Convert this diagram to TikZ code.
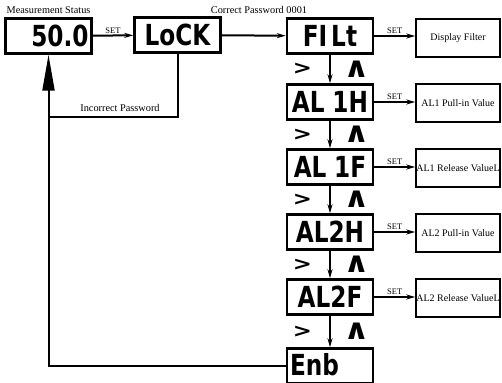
\documentclass[tikz,border=0pt]{standalone}
\usepackage{fontspec}
\setmainfont{Liberation Serif}
\newfontfamily\segfont{DejaVu Sans}
\usetikzlibrary{arrows.meta}
\begin{document}
\begin{tikzpicture}[x=1pt,y=-1pt,
 disp/.style={draw, line width=2.5pt, minimum width=86pt, minimum height=35pt, inner sep=0pt,
   font=\segfont\bfseries\fontsize{29}{29}\selectfont},
 valbox/.style={draw, line width=1.5pt, minimum width=84pt, minimum height=38pt, inner sep=0pt,
   font=\fontsize{10}{10}\selectfont},
 conn/.style={line width=2pt},
 arr/.style={conn, -{Stealth[length=9pt,width=5pt]}},
 lbl/.style={font=\fontsize{10.3}{10.3}\selectfont, inner sep=0pt},
 setl/.style={font=\fontsize{8.5}{8.5}\selectfont, inner sep=1pt},
 chev/.style={font=\segfont\bfseries\fontsize{19}{19}\selectfont, inner sep=0pt}]
\useasboundingbox (0,0) rectangle (502,382);
\clip (0,0) rectangle (502,382);

\node[disp, text width=80pt, align=right] (b1) at (48.5,36) {\scalebox{0.8}[1]{50.0}};
\node[disp] (lock) at (177.5,35) {\scalebox{0.8}[1]{LoCK}};
\node[disp] (filt) at (330,36) {\scalebox{0.8}[1]{FI\,Lt}};
\node[disp] (al1h) at (330,102) {\scalebox{0.8}[1]{AL\,\,1H}};
\node[disp] (al1f) at (330,167) {\scalebox{0.8}[1]{AL\,\,1F}};
\node[disp] (al2h) at (330,232) {\scalebox{0.8}[1]{AL2H}};
\node[disp] (al2f) at (330,297) {\scalebox{0.8}[1]{AL2F}};
\node[disp, text width=80pt, align=left] (enb) at (330,366) {\raisebox{4pt}{\scalebox{0.8}[1]{Enb}}};

\node[valbox] (v1) at (458,38) {Display Filter};
\node[valbox] (v2) at (458,103) {AL1 Pull-in Value};
\node[valbox] (v3) at (458,168) {AL1 Release ValueL};
\node[valbox] (v4) at (458,233) {AL2 Pull-in Value};
\node[valbox] (v5) at (458,298) {AL2 Release ValueL};

\node[lbl] (ms) at (48.5,10) {Measurement Status};
\node[lbl] (cp) at (259,10) {Correct Password 0001};
\node[lbl] (ip) at (120,108) {Incorrect Password};

\draw[arr] (b1) -- (lock) node[midway, above, setl] {SET};
\draw[arr] (lock) -- (filt);
\draw[arr] (filt.east) -- (v1.west |- filt.east) node[midway, above, setl] {SET};
\draw[arr] (al1h.east) -- (v2.west |- al1h.east) node[midway, above, setl] {SET};
\draw[arr] (al1f.east) -- (v3.west |- al1f.east) node[midway, above, setl] {SET};
\draw[arr] (al2h.east) -- (v4.west |- al2h.east) node[midway, above, setl] {SET};
\draw[arr] (al2f.east) -- (v5.west |- al2f.east) node[midway, above, setl] {SET};

\foreach \a/\b in {filt/al1h, al1h/al1f, al1f/al2h, al2h/al2f, al2f/enb}{
  \draw[arr] (\a) -- (\b);
  \path (\a.south) -- (\b.north)
    node[pos=0.5, chev, xshift=-27.5pt] {\scalebox{1.2}[1]{>}}
    node[pos=0.5, chev, xshift=26.5pt] {\scalebox{1.7}[1.5]{∧}};
}

\coordinate (ret) at (49,117);
\draw[conn] (lock.south) |- (ret);
\draw[conn, -{Triangle[length=36pt,width=12pt]}] (enb.west) -| (b1.south);
\end{tikzpicture}
\end{document}
